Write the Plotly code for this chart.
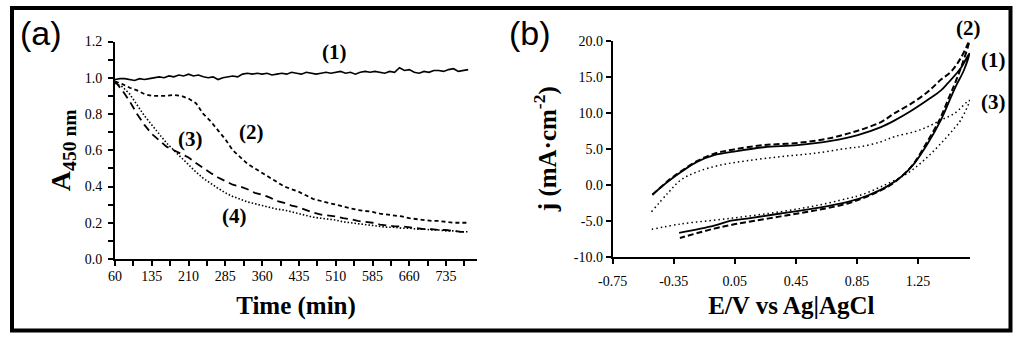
import plotly.graph_objects as go

# ---------------- Panel (a) data ----------------
time_a1 = [60 + 10 * i for i in range(73)]
abs_1 = [0.99, 0.995, 0.995, 0.99, 0.985, 0.995, 0.99, 0.995, 1.0, 1.005,
         1.0, 1.01, 1.005, 1.015, 1.01, 1.02, 1.01, 1.015, 1.005, 1.0,
         1.005, 0.99, 1.0, 1.005, 1.01, 1.005, 1.02, 1.025, 1.02, 1.025,
         1.02, 1.025, 1.015, 1.02, 1.025, 1.02, 1.03, 1.025, 1.02, 1.03,
         1.025, 1.02, 1.025, 1.03, 1.025, 1.03, 1.035, 1.025, 1.03, 1.02,
         1.03, 1.035, 1.03, 1.035, 1.03, 1.025, 1.035, 1.03, 1.055, 1.04,
         1.045, 1.03, 1.025, 1.035, 1.03, 1.04, 1.04, 1.035, 1.045, 1.05,
         1.035, 1.04, 1.045]

time_a = [60 + 15 * i for i in range(49)]
abs_2 = [0.98, 0.965, 0.945, 0.93, 0.91, 0.90, 0.90, 0.90, 0.905, 0.90,
         0.885, 0.86, 0.80, 0.76, 0.71, 0.66, 0.60, 0.56, 0.525, 0.50,
         0.475, 0.45, 0.425, 0.40, 0.385, 0.37, 0.35, 0.33, 0.32, 0.31,
         0.30, 0.29, 0.28, 0.27, 0.265, 0.26, 0.25, 0.245, 0.24, 0.235,
         0.225, 0.22, 0.215, 0.21, 0.21, 0.205, 0.20, 0.20, 0.20]
abs_3 = [0.98, 0.93, 0.87, 0.80, 0.74, 0.69, 0.655, 0.62, 0.60, 0.58,
         0.56, 0.53, 0.50, 0.475, 0.45, 0.43, 0.41, 0.40, 0.385, 0.365,
         0.355, 0.34, 0.32, 0.31, 0.295, 0.285, 0.27, 0.255, 0.245, 0.24,
         0.235, 0.225, 0.22, 0.21, 0.205, 0.20, 0.19, 0.185, 0.18, 0.18,
         0.175, 0.17, 0.165, 0.165, 0.16, 0.16, 0.155, 0.15, 0.15]
abs_4 = [0.97, 0.95, 0.91, 0.85, 0.79, 0.74, 0.69, 0.64, 0.60, 0.56,
         0.515, 0.48, 0.445, 0.415, 0.39, 0.365, 0.345, 0.33, 0.315, 0.305,
         0.295, 0.285, 0.275, 0.27, 0.26, 0.25, 0.24, 0.23, 0.225, 0.22,
         0.215, 0.205, 0.20, 0.195, 0.19, 0.185, 0.18, 0.175, 0.175, 0.17,
         0.17, 0.165, 0.165, 0.16, 0.16, 0.155, 0.155, 0.15, 0.15]

# ---------------- Panel (b) data (cyclic voltammograms) ----------------
E_1 = [-0.49, -0.39, -0.30, -0.195, -0.086, 0.045, 0.24, 0.46, 0.68, 0.855,
       1.007, 1.094, 1.20, 1.314, 1.40, 1.445, 1.53, 1.585,
       1.55, 1.50, 1.466, 1.40, 1.314, 1.226, 1.15, 1.05, 0.92, 0.79,
       0.57, 0.35, 0.13, 0.024, -0.086, -0.315]
j_1 = [-1.4, 0.4, 1.8, 3.2, 4.1, 4.6, 5.2, 5.5, 6.1, 6.9,
       8.0, 8.9, 10.2, 11.8, 13.1, 14.1, 16.2, 18.2,
       15.9, 13.8, 12.2, 9.0, 5.75, 2.97, 1.3, -0.2, -1.5, -2.4,
       -3.3, -4.0, -4.7, -5.0, -5.7, -6.7]
E_2 = [-0.49, -0.39, -0.30, -0.195, -0.086, 0.045, 0.24, 0.46, 0.68, 0.855,
       1.007, 1.094, 1.20, 1.314, 1.40, 1.466, 1.53, 1.585,
       1.54, 1.49, 1.45, 1.39, 1.30, 1.22, 1.15, 1.05, 0.92, 0.79,
       0.57, 0.35, 0.13, 0.024, -0.086, -0.31]
j_2 = [-1.4, 0.5, 1.9, 3.3, 4.3, 4.9, 5.5, 5.8, 6.5, 7.5,
       8.7, 9.9, 11.2, 12.9, 14.6, 15.7, 17.6, 19.9,
       16.8, 14.0, 12.0, 9.0, 5.6, 2.9, 1.3, -0.3, -1.6, -2.6,
       -3.6, -4.4, -5.2, -5.6, -6.1, -7.4]
E_3 = [-0.496, -0.39, -0.304, -0.195, -0.042, 0.13, 0.35, 0.57, 0.79, 0.876,
       1.007, 1.094, 1.226, 1.314, 1.40, 1.49, 1.585,
       1.53, 1.49, 1.42, 1.314, 1.18, 1.007, 0.876, 0.79, 0.57, 0.35,
       0.024, -0.304, -0.494]
j_3 = [-3.75, -1.2, 0.65, 1.8, 2.74, 3.33, 3.9, 4.36, 5.06, 5.28,
       5.97, 6.67, 7.36, 8.06, 8.99, 9.92, 11.7,
       9.0, 7.9, 6.2, 3.9, 1.58, -0.28, -1.43, -1.9, -2.96, -3.75,
       -4.67, -5.46, -6.2]

# tick labels of panel (b), written with a plain hyphen as in the original
E_ticks = [-0.75, -0.35, 0.05, 0.45, 0.85, 1.25]
E_ticktext = ["-0.75", "-0.35", "0.05", "0.45", "0.85", "1.25"]
j_ticks = [-10, -5, 0, 5, 10, 15, 20]
j_ticktext = ["-10.0", "-5.0", "0.0", "5.0", "10.0", "15.0", "20.0"]

# ---------------- Figure ----------------
W, H = 1024, 343
serif = "Liberation Serif, Times New Roman, serif"
sans = "Liberation Sans, Arial, sans-serif"

fig = go.Figure()

fig.add_trace(go.Scatter(x=time_a1, y=abs_1, mode="lines", name="(1)",
                         line=dict(color="black", width=1.6), xaxis="x", yaxis="y"))
fig.add_trace(go.Scatter(x=time_a, y=abs_2, mode="lines", name="(2)",
                         line=dict(color="black", width=1.8, dash="4px,3px"), xaxis="x", yaxis="y"))
fig.add_trace(go.Scatter(x=time_a, y=abs_3, mode="lines", name="(3)",
                         line=dict(color="black", width=1.8, dash="8px,5px"), xaxis="x", yaxis="y"))
fig.add_trace(go.Scatter(x=time_a, y=abs_4, mode="lines", name="(4)",
                         line=dict(color="black", width=1.6, dash="1.5px,2px"), xaxis="x", yaxis="y"))

fig.add_trace(go.Scatter(x=E_1, y=j_1, mode="lines", name="(1)", line_shape="spline",
                         line=dict(color="black", width=1.8), xaxis="x2", yaxis="y2"))
fig.add_trace(go.Scatter(x=E_2, y=j_2, mode="lines", name="(2)", line_shape="spline",
                         line=dict(color="black", width=2, dash="6px,3px"), xaxis="x2", yaxis="y2"))
fig.add_trace(go.Scatter(x=E_3, y=j_3, mode="lines", name="(3)", line_shape="spline",
                         line=dict(color="black", width=1.5, dash="1.5px,3px"), xaxis="x2", yaxis="y2"))

tickfont = dict(family=serif, size=14, color="black")
titlefont = dict(family=serif, size=25, color="black")

common = dict(ticks="outside", ticklen=5, tickwidth=1.5, tickcolor="black",
              showline=True, linecolor="black", linewidth=2, showgrid=False,
              zeroline=False, tickfont=tickfont, automargin=False)

fig.update_layout(
    width=W, height=H,
    margin=dict(l=0, r=0, t=0, b=0, pad=0, autoexpand=False),
    paper_bgcolor="white", plot_bgcolor="white",
    showlegend=False,
    xaxis=dict(domain=[115 / W, 477 / W], range=[60, 798],
               tickmode="linear", tick0=60, dtick=75,
               minor=dict(dtick=37.5, tick0=60, ticks="outside", ticklen=5, tickwidth=1.5, tickcolor="black"),
               ticklabelstandoff=-2,
               title=dict(text="<b>Time (min)</b>", font=titlefont, standoff=14),
               anchor="y", **common),
    yaxis=dict(domain=[1 - 259 / H, 1 - 41.5 / H], range=[0, 1.2],
               tickmode="linear", tick0=0, dtick=0.2, tickformat=".1f",
               minor=dict(dtick=0.1, ticks="outside", ticklen=5, tickwidth=1.5, tickcolor="black"),
               ticklabelstandoff=3,
               title=dict(text="<b>A<sub>450 nm</sub></b>", font=dict(family=serif, size=28, color="black"), standoff=6),
               anchor="x", **common),
    xaxis2=dict(domain=[612.7 / W, 970 / W], range=[-0.75, 1.59],
                tickmode="array", tickvals=E_ticks, ticktext=E_ticktext,
                ticklabelstandoff=5,
                title=dict(text="<b>E/V vs Ag|AgCl</b>", font=titlefont, standoff=9),
                anchor="y2", **common),
    yaxis2=dict(domain=[1 - 256.7 / H, 1 - 40.7 / H], range=[-10, 20],
                tickmode="array", tickvals=j_ticks, ticktext=j_ticktext,
                ticklabelstandoff=0,
                title=dict(text="<b>j (mA·cm<sup>-2</sup>)</b>", font=titlefont, standoff=10),
                anchor="x2", **common),
)

labfont = dict(family=serif, size=21, color="black")
# curve labels inside the axes (data coordinates)
ann = [
    dict(x=508, y=1.14, xref="x", yref="y", text="<b>(1)</b>"),
    dict(x=338, y=0.70, xref="x", yref="y", text="<b>(2)</b>"),
    dict(x=214, y=0.66, xref="x", yref="y", text="<b>(3)</b>"),
    dict(x=303, y=0.237, xref="x", yref="y", text="<b>(4)</b>"),
]
# curve labels of panel (b) sit beyond the axis range, so place them on the paper
ann += [
    dict(x=968 / W, y=1 - 28 / H, xref="paper", yref="paper", text="<b>(2)</b>"),
    dict(x=993 / W, y=1 - 60 / H, xref="paper", yref="paper", text="<b>(1)</b>"),
    dict(x=993 / W, y=1 - 102 / H, xref="paper", yref="paper", text="<b>(3)</b>"),
]
for a in ann:
    fig.add_annotation(**a, showarrow=False, font=labfont,
                       xanchor="center", yanchor="middle")

fig.add_annotation(x=41 / W, y=1 - 33 / H, xref="paper", yref="paper", text="(a)",
                   xanchor="center", yanchor="middle",
                   showarrow=False, font=dict(family=sans, size=34, color="black"))
fig.add_annotation(x=530 / W, y=1 - 33 / H, xref="paper", yref="paper", text="(b)",
                   xanchor="center", yanchor="middle",
                   showarrow=False, font=dict(family=sans, size=34, color="black"))

fig.add_shape(type="rect", xref="paper", yref="paper",
              x0=12 / W, x1=1010.5 / W, y0=1 - 330.5 / H, y1=1 - 8 / H,
              line=dict(color="black", width=4))

fig.write_html("out.html", config={"displayModeBar": False},
               post_script="document.body.style.margin='0';document.body.style.padding='0';")
